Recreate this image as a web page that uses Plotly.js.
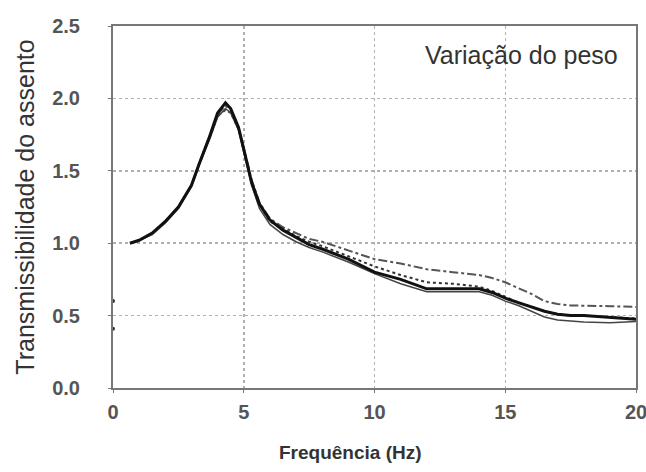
<!DOCTYPE html>
<html>
<head>
<meta charset="utf-8">
<script src="https://cdn.plot.ly/plotly-3.0.1.min.js"></script>
<style>html,body{margin:0;padding:0;background:#fff;}#chart{width:646px;height:472px;}</style>
</head>
<body>
<div id="chart"></div>
<script>
const freq = [0.65, 1.0, 1.5, 2.0, 2.5, 3.0, 3.3, 3.7, 4.0, 4.3, 4.5, 4.8, 5.0, 5.3, 5.6, 6.0, 6.5, 7.0, 7.5, 8.0, 9.0, 10.0, 11.0, 12.0, 13.0, 14.0, 14.5, 15.0, 15.5, 16.0, 16.5, 17.0, 17.5, 18.0, 19.0, 20.0];
const serieA = [1.00, 1.02, 1.07, 1.15, 1.25, 1.40, 1.55, 1.74, 1.90, 1.97, 1.93, 1.80, 1.65, 1.42, 1.27, 1.16, 1.09, 1.04, 0.99, 0.96, 0.89, 0.80, 0.75, 0.685, 0.685, 0.685, 0.66, 0.62, 0.59, 0.56, 0.53, 0.51, 0.50, 0.50, 0.49, 0.475];
const serieB = [1.00, 1.02, 1.06, 1.14, 1.24, 1.39, 1.54, 1.72, 1.87, 1.93, 1.90, 1.78, 1.63, 1.40, 1.24, 1.13, 1.06, 1.01, 0.97, 0.94, 0.87, 0.79, 0.72, 0.665, 0.665, 0.665, 0.64, 0.60, 0.57, 0.53, 0.49, 0.47, 0.46, 0.455, 0.45, 0.46];
const serieC = [1.00, 1.02, 1.07, 1.15, 1.25, 1.40, 1.55, 1.73, 1.88, 1.92, 1.90, 1.79, 1.64, 1.43, 1.27, 1.15, 1.10, 1.05, 1.01, 0.98, 0.91, 0.84, 0.78, 0.73, 0.72, 0.70, 0.67, 0.63, 0.59, 0.56, 0.53, 0.51, 0.50, 0.50, 0.49, 0.48];
const serieD = [1.00, 1.02, 1.07, 1.15, 1.25, 1.40, 1.55, 1.74, 1.89, 1.95, 1.92, 1.80, 1.66, 1.44, 1.28, 1.17, 1.11, 1.07, 1.03, 1.01, 0.95, 0.89, 0.86, 0.82, 0.80, 0.78, 0.76, 0.73, 0.69, 0.65, 0.60, 0.58, 0.57, 0.57, 0.565, 0.56];
const axisDotsX = [0, 0];
const axisDotsY = [0.6, 0.41];
const xTicks = [0, 5, 10, 15, 20];
const yTicks = [0.0, 0.5, 1.0, 1.5, 2.0, 2.5];
const yTickText = ["0.0", "0.5", "1.0", "1.5", "2.0", "2.5"];
const xTitle = "Frequência (Hz)";
const yTitle = "Transmissibilidade do assento";
const label = "Variação do peso";

const traces = [
  {x: freq, y: serieD, mode: 'lines', line: {color: '#555', width: 2, dash: 'dashdot'}, hoverinfo: 'skip'},
  {x: freq, y: serieC, mode: 'lines', line: {color: '#333', width: 2, dash: 'dot'}, hoverinfo: 'skip'},
  {x: freq, y: serieB, mode: 'lines', line: {color: '#444', width: 1.5}, hoverinfo: 'skip'},
  {x: freq, y: serieA, mode: 'lines', line: {color: '#111', width: 3}, hoverinfo: 'skip'},
  {x: axisDotsX, y: axisDotsY, mode: 'markers', marker: {color: '#333', size: 4}, cliponaxis: false, hoverinfo: 'skip'}
];

const fam = 'Liberation Sans, Arial, sans-serif';
const tickFont = {family: fam, size: 20, color: '#555', weight: 'bold'};
const layout = {
  width: 646, height: 472,
  margin: {l: 113, r: 10, t: 26, b: 84},
  paper_bgcolor: '#fff', plot_bgcolor: '#fff',
  showlegend: false,
  xaxis: {
    range: [0, 20], tickvals: xTicks, ticktext: xTicks.map(String),
    showgrid: true, gridcolor: '#b0b0b0', griddash: 'dot', gridwidth: 1.5,
    showline: true, linecolor: '#777', linewidth: 2, mirror: true,
    ticks: 'outside', ticklen: 3, tickcolor: '#777',
    zeroline: false, tickfont: tickFont, ticklabelstandoff: 2,
    ticklabeloverflow: 'allow',
    automargin: false
  },
  yaxis: {
    range: [0, 2.5], tickvals: yTicks, ticktext: yTickText,
    showgrid: true, gridcolor: '#b0b0b0', griddash: 'dot', gridwidth: 1.5,
    showline: true, linecolor: '#777', linewidth: 2, mirror: true,
    ticks: 'outside', ticklen: 3, tickcolor: '#777',
    zeroline: false, tickfont: tickFont, ticklabelstandoff: 24,
    ticklabeloverflow: 'allow',
    title: {text: yTitle, font: {family: fam, size: 25, color: '#333'}, standoff: 10},
    automargin: false
  },
  annotations: [{
    text: label, xref: 'paper', yref: 'paper', x: 0.969, y: 0.965,
    xanchor: 'right', yanchor: 'top', showarrow: false,
    font: {family: fam, size: 25, color: '#333'}
  }, {
    text: xTitle, xref: 'paper', yref: 'paper', x: (350 - 113) / 523, y: -0.178,
    xanchor: 'center', yanchor: 'middle', showarrow: false,
    font: {family: fam, size: 19, color: '#333', weight: 'bold'}
  }]
};
Plotly.newPlot('chart', traces, layout, {staticPlot: true, displayModeBar: false});
</script>
</body>
</html>
